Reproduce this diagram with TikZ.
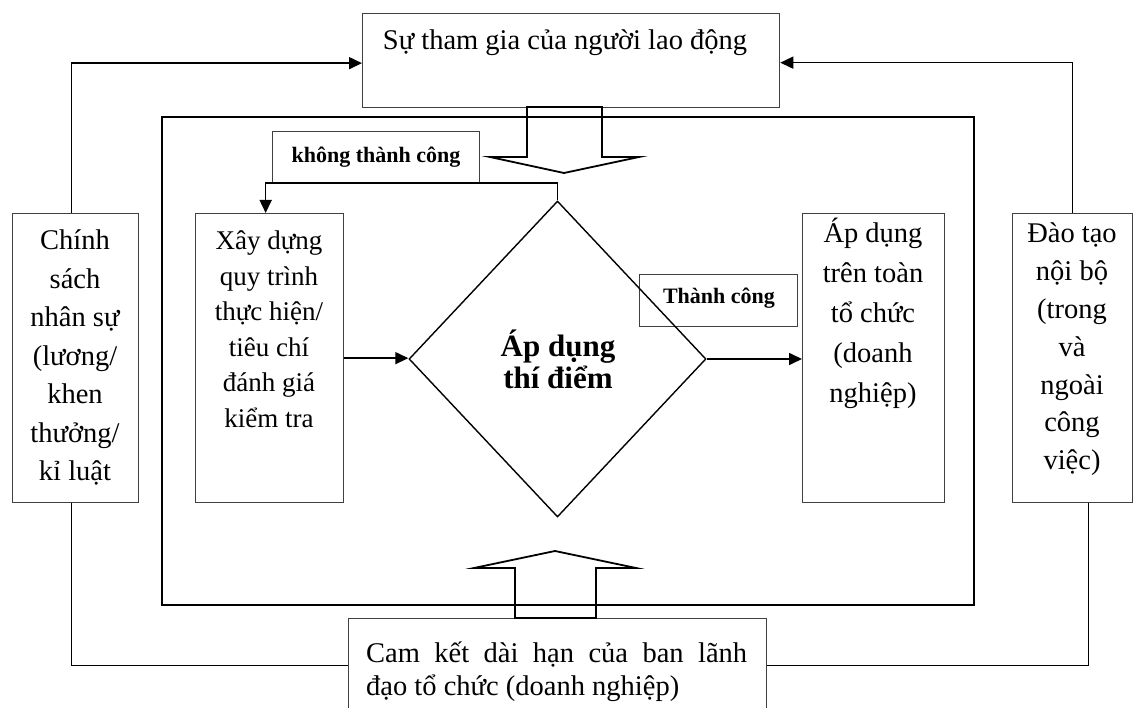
\documentclass[tikz,border=0pt]{standalone}
\usepackage{fontspec}
\setmainfont{Liberation Serif}
\usetikzlibrary{arrows.meta,shapes.geometric}

% stacked lines with a fixed leading; the box baseline is the first line
\newcommand\linesc[1]{\vtop{\lineskiplimit=-100pt\lineskip=0pt\halign{\hfil##\hfil\cr#1\crcr}}}
\newcommand\linesl[1]{\vtop{\lineskiplimit=-100pt\lineskip=0pt\halign{##\hfil\cr#1\crcr}}}

\tikzset{
  box/.style={draw=black!75, line width=1.3pt, rectangle, inner sep=0pt, anchor=north west},
  txt/.style={inner sep=0pt, anchor=base},
  conn/.style={line width=1.6pt, draw=black},
  arr/.style={conn, -{Triangle[length=13pt,width=12pt]}},
  blockarrow/.style={line width=1.8pt, draw=black, line join=miter},
}

\begin{document}
\begin{tikzpicture}[x=1pt, y=-1pt]
  \path[use as bounding box] (0,0) rectangle (1133,708);
  \clip (0,0) rectangle (1133,708);

  % outer frame of the pilot loop
  \node[draw=black, line width=1.8pt, rectangle, inner sep=0pt, anchor=north west,
        minimum width=812pt, minimum height=488pt] (frame) at (161,116) {};

  % boxes
  \node[box, minimum width=417pt, minimum height=94pt] (thamgia) at (362,13) {};
  \node[box, minimum width=207pt, minimum height=51pt] (fail) at (272,131) {};
  \node[box, minimum width=158pt, minimum height=52pt] (success) at (639,274) {};
  \node[box, minimum width=126pt, minimum height=289pt] (chinh) at (12,213) {};
  \node[box, minimum width=148pt, minimum height=289pt] (xay) at (195,213) {};
  \node[box, minimum width=142pt, minimum height=289pt] (apdung) at (802,213) {};
  \node[box, minimum width=120pt, minimum height=289pt] (daotao) at (1012,213) {};
  \node[box, minimum width=418pt, minimum height=94pt] (camket) at (348,618) {};

  % decision diamond
  \node[diamond, draw=black, line width=1.4pt, inner sep=0pt,
        minimum width=297pt, minimum height=316pt] (pilot) at (557.5,359) {};

  % texts
  \node[txt, font=\fontsize{28.5}{38.5}\selectfont] (thamgiaT) at (565,50)
    {Sự tham gia của người lao động};
  \node[txt, font=\fontsize{22}{26}\selectfont\bfseries] (failT) at (376,163)
    {không thành công};
  \node[txt, font=\fontsize{22}{26}\selectfont\bfseries] (successT) at (719,304)
    {Thành công};
  \node[txt, font=\fontsize{28.5}{38.5}\selectfont] (chinhT) at (75,250)
    {\linesc{Chính\cr sách\cr nhân sự\cr (lương/\cr khen\cr thưởng/\cr kỉ luật}};
  \node[txt, font=\fontsize{27}{35.5}\selectfont] (xayT) at (269,250)
    {\linesc{Xây dựng\cr quy trình\cr thực hiện/\cr tiêu chí\cr đánh giá\cr kiểm tra}};
  \node[txt, font=\fontsize{28.5}{40}\selectfont] (apdungT) at (873,243)
    {\linesc{Áp dụng\cr trên toàn\cr tổ chức\cr (doanh\cr nghiệp)}};
  \node[txt, font=\fontsize{28.5}{37.8}\selectfont] (daotaoT) at (1072,243)
    {\linesc{Đào tạo\cr nội bộ\cr (trong\cr và\cr ngoài\cr công\cr việc)}};
  \node[txt, font=\fontsize{31}{31.5}\selectfont\bfseries] (pilotT) at (558,357)
    {\linesc{Áp dụng\cr thí điểm}};
  \node[txt, anchor=base west, font=\fontsize{28.5}{33}\selectfont] (camketT) at (366,662)
    {\linesl{\makebox[381pt][s]{Cam kết dài hạn của ban lãnh}\cr đạo tổ chức (doanh nghiệp)}};

  % block arrows: participation flows down, commitment flows up
  \draw[blockarrow] (527,107) -- (527,157) -- (490,157) -- (564,173) -- (639,157)
    -- (602,157) -- (602,107) -- cycle;
  \draw[blockarrow] (515,618) -- (515,568) -- (474,568) -- (555,551) -- (636,568)
    -- (596,568) -- (596,618) -- cycle;

  % connectors
  \draw[arr] ([xshift=-4pt]chinh.north) |- ([yshift=-2.5pt]thamgia.west);
  \draw[arr] (daotao.north) |- ([yshift=-2pt]thamgia.east);
  \draw[conn] ([xshift=-4pt]chinh.south) |- (camket.west);
  \draw[conn] ([xshift=16pt]daotao.south) |- (camket.east);
  \draw[arr] (xay.east) -- (xay.east -| pilot.west);
  \draw[arr] (pilot.east) -- (pilot.east -| apdung.west);
  \draw[arr] (pilot.north) -- (pilot.north |- fail.south) -| ([xshift=-4pt]xay.north);
\end{tikzpicture}
\end{document}
